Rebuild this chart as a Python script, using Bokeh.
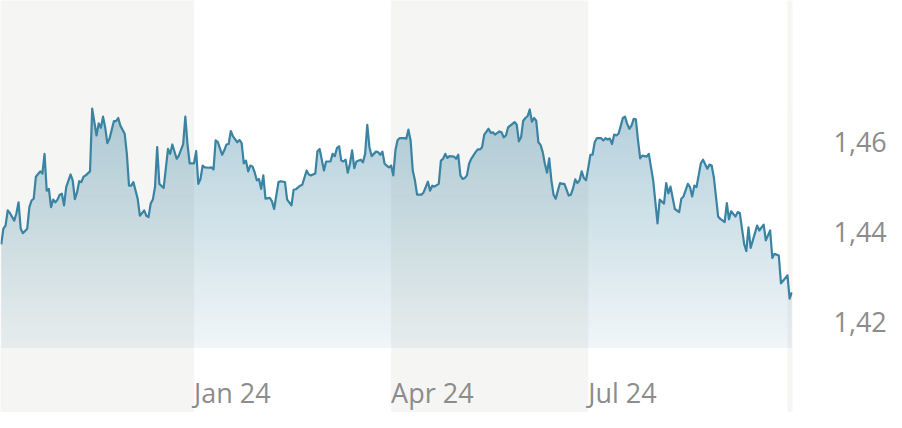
import numpy as np
import pandas as pd
from bokeh.plotting import figure
from bokeh.models import (BoxAnnotation, LinearAxis, FixedTicker,
                          CustomJSTickFormatter, Label, Range1d)
from bokeh.embed import file_html
from bokeh.resources import INLINE

# ---------------- data ----------------
dates = [
    # Oct 2023
    "2023-10-04", "2023-10-05", "2023-10-06", "2023-10-07", "2023-10-08", "2023-10-10", "2023-10-11",
    "2023-10-12", "2023-10-13", "2023-10-14", "2023-10-16", "2023-10-17", "2023-10-18", "2023-10-19",
    "2023-10-20", "2023-10-22", "2023-10-23", "2023-10-24", "2023-10-25", "2023-10-26", "2023-10-27",
    "2023-10-28", "2023-10-29", "2023-10-30", "2023-10-31",
    # Nov 2023
    "2023-11-01", "2023-11-02", "2023-11-03", "2023-11-05", "2023-11-06", "2023-11-07", "2023-11-08",
    "2023-11-09", "2023-11-10", "2023-11-11", "2023-11-12", "2023-11-14", "2023-11-15", "2023-11-17",
    "2023-11-18", "2023-11-19", "2023-11-20", "2023-11-21", "2023-11-22", "2023-11-23", "2023-11-25",
    "2023-11-26", "2023-11-27", "2023-11-28", "2023-11-30",
    # Dec 2023
    "2023-12-01", "2023-12-02", "2023-12-03", "2023-12-04", "2023-12-06", "2023-12-07", "2023-12-09",
    "2023-12-10", "2023-12-11", "2023-12-12", "2023-12-13", "2023-12-14", "2023-12-15", "2023-12-16",
    "2023-12-18", "2023-12-20", "2023-12-21", "2023-12-22", "2023-12-24", "2023-12-25", "2023-12-27",
    "2023-12-28", "2023-12-29", "2023-12-30",
    # Jan 2024
    "2024-01-01", "2024-01-02", "2024-01-03", "2024-01-04", "2024-01-05", "2024-01-06", "2024-01-08",
    "2024-01-09", "2024-01-10", "2024-01-11", "2024-01-12", "2024-01-14", "2024-01-15", "2024-01-16",
    "2024-01-17", "2024-01-18", "2024-01-19", "2024-01-21", "2024-01-22", "2024-01-23", "2024-01-24",
    "2024-01-25", "2024-01-26", "2024-01-27", "2024-01-28", "2024-01-29", "2024-01-30", "2024-01-31",
    # Feb 2024
    "2024-02-01", "2024-02-02", "2024-02-03", "2024-02-05", "2024-02-06", "2024-02-07", "2024-02-09",
    "2024-02-10", "2024-02-12", "2024-02-13", "2024-02-15", "2024-02-16", "2024-02-17", "2024-02-19",
    "2024-02-20", "2024-02-22", "2024-02-23", "2024-02-24", "2024-02-26", "2024-02-27", "2024-02-28",
    # Mar 2024
    "2024-03-01", "2024-03-02", "2024-03-04", "2024-03-05", "2024-03-06", "2024-03-07", "2024-03-08",
    "2024-03-09", "2024-03-10", "2024-03-11", "2024-03-12", "2024-03-13", "2024-03-14", "2024-03-15",
    "2024-03-16", "2024-03-18", "2024-03-19", "2024-03-20", "2024-03-21", "2024-03-22", "2024-03-23",
    "2024-03-25", "2024-03-26", "2024-03-27", "2024-03-28", "2024-03-29", "2024-03-30", "2024-03-31",
    # Apr 2024
    "2024-04-01", "2024-04-02", "2024-04-03", "2024-04-04", "2024-04-05", "2024-04-07", "2024-04-08",
    "2024-04-09", "2024-04-10", "2024-04-11", "2024-04-12", "2024-04-13", "2024-04-15", "2024-04-16",
    "2024-04-18", "2024-04-19", "2024-04-20", "2024-04-21", "2024-04-23", "2024-04-24", "2024-04-25",
    "2024-04-26", "2024-04-27", "2024-04-28", "2024-04-30",
    # May 2024
    "2024-05-01", "2024-05-02", "2024-05-03", "2024-05-04", "2024-05-05", "2024-05-06", "2024-05-07",
    "2024-05-08", "2024-05-10", "2024-05-11", "2024-05-12", "2024-05-13", "2024-05-14", "2024-05-16",
    "2024-05-17", "2024-05-18", "2024-05-19", "2024-05-21", "2024-05-22", "2024-05-23", "2024-05-24",
    "2024-05-25", "2024-05-26", "2024-05-28", "2024-05-29", "2024-05-30", "2024-05-31",
    # Jun 2024
    "2024-06-01", "2024-06-02", "2024-06-03", "2024-06-04", "2024-06-05", "2024-06-06", "2024-06-07",
    "2024-06-08", "2024-06-09", "2024-06-10", "2024-06-11", "2024-06-12", "2024-06-13", "2024-06-14",
    "2024-06-15", "2024-06-16", "2024-06-17", "2024-06-18", "2024-06-19", "2024-06-20", "2024-06-21",
    "2024-06-22", "2024-06-23", "2024-06-24", "2024-06-25", "2024-06-26", "2024-06-27", "2024-06-28",
    "2024-06-29", "2024-06-30",
    # Jul 2024
    "2024-07-01", "2024-07-02", "2024-07-03", "2024-07-04", "2024-07-05", "2024-07-07", "2024-07-08",
    "2024-07-09", "2024-07-10", "2024-07-11", "2024-07-12", "2024-07-13", "2024-07-14", "2024-07-15",
    "2024-07-16", "2024-07-17", "2024-07-18", "2024-07-19", "2024-07-20", "2024-07-21", "2024-07-22",
    "2024-07-23", "2024-07-24", "2024-07-25", "2024-07-26", "2024-07-28", "2024-07-29", "2024-07-30",
    "2024-07-31",
    # Aug 2024
    "2024-08-02", "2024-08-03", "2024-08-05", "2024-08-06", "2024-08-07", "2024-08-08", "2024-08-10",
    "2024-08-12", "2024-08-13", "2024-08-14", "2024-08-16", "2024-08-17", "2024-08-18", "2024-08-19",
    "2024-08-20", "2024-08-21", "2024-08-22", "2024-08-23", "2024-08-25", "2024-08-26", "2024-08-27",
    "2024-08-28", "2024-08-30", "2024-08-31",
    # Sep 2024
    "2024-09-02", "2024-09-03", "2024-09-04", "2024-09-05", "2024-09-07", "2024-09-08", "2024-09-09",
    "2024-09-10", "2024-09-11", "2024-09-12", "2024-09-13", "2024-09-14", "2024-09-15", "2024-09-17",
    "2024-09-18", "2024-09-20", "2024-09-21", "2024-09-23", "2024-09-24", "2024-09-25", "2024-09-27",
    "2024-09-28", "2024-09-29",
    # Oct 2024
    "2024-10-01", "2024-10-02", "2024-10-03",
]

rates = [
    # Oct 2023
    1.4372, 1.4407, 1.4414, 1.4448, 1.4442, 1.4425, 1.4441, 1.4466, 1.4407, 1.4397, 1.4407, 1.4455,
    1.4470, 1.4474, 1.4523, 1.4535, 1.4530, 1.4574, 1.4492, 1.4496, 1.4455, 1.4472, 1.4466, 1.4472, 1.4483,
    # Nov 2023
    1.4485, 1.4459, 1.4500, 1.4528, 1.4515, 1.4473, 1.4488, 1.4513, 1.4511, 1.4523, 1.4526, 1.4535,
    1.4675, 1.4615, 1.4642, 1.4632, 1.4657, 1.4633, 1.4598, 1.4608, 1.4647, 1.4647, 1.4654, 1.4637, 1.4619,
    # Dec 2023
    1.4574, 1.4503, 1.4503, 1.4511, 1.4474, 1.4436, 1.4448, 1.4436, 1.4433, 1.4463, 1.4472, 1.4500,
    1.4589, 1.4507, 1.4498, 1.4585, 1.4574, 1.4595, 1.4563, 1.4570, 1.4596, 1.4657, 1.4596, 1.4553,
    # Jan 2024
    1.4553, 1.4580, 1.4507, 1.4518, 1.4548, 1.4544, 1.4543, 1.4544, 1.4539, 1.4604, 1.4600, 1.4572,
    1.4582, 1.4595, 1.4596, 1.4625, 1.4613, 1.4600, 1.4605, 1.4598, 1.4553, 1.4559, 1.4535, 1.4548,
    1.4546, 1.4533, 1.4515, 1.4518,
    # Feb 2024
    1.4496, 1.4526, 1.4474, 1.4476, 1.4468, 1.4451, 1.4511, 1.4513, 1.4511, 1.4472, 1.4459, 1.4494,
    1.4495, 1.4503, 1.4505, 1.4537, 1.4528, 1.4526, 1.4530, 1.4580, 1.4585,
    # Mar 2024
    1.4537, 1.4557, 1.4557, 1.4574, 1.4569, 1.4587, 1.4591, 1.4559, 1.4557, 1.4561, 1.4532, 1.4552,
    1.4582, 1.4542, 1.4557, 1.4561, 1.4555, 1.4574, 1.4639, 1.4589, 1.4569, 1.4579, 1.4578, 1.4572,
    1.4579, 1.4552, 1.4548, 1.4544,
    # Apr 2024
    1.4548, 1.4526, 1.4582, 1.4605, 1.4609, 1.4609, 1.4608, 1.4628, 1.4604, 1.4537, 1.4515, 1.4483,
    1.4483, 1.4488, 1.4512, 1.4492, 1.4503, 1.4501, 1.4507, 1.4559, 1.4563, 1.4574, 1.4565, 1.4569, 1.4568,
    # May 2024
    1.4563, 1.4572, 1.4526, 1.4518, 1.4520, 1.4526, 1.4552, 1.4563, 1.4578, 1.4584, 1.4584, 1.4589,
    1.4617, 1.4630, 1.4621, 1.4622, 1.4617, 1.4624, 1.4622, 1.4611, 1.4615, 1.4633, 1.4637, 1.4645,
    1.4639, 1.4602, 1.4611,
    # Jun 2024
    1.4648, 1.4654, 1.4658, 1.4673, 1.4646, 1.4654, 1.4648, 1.4600, 1.4594, 1.4578, 1.4552, 1.4532,
    1.4564, 1.4515, 1.4483, 1.4474, 1.4492, 1.4509, 1.4507, 1.4507, 1.4494, 1.4481, 1.4483, 1.4497,
    1.4517, 1.4509, 1.4515, 1.4535, 1.4520, 1.4515,
    # Jul 2024
    1.4542, 1.4572, 1.4572, 1.4600, 1.4609, 1.4609, 1.4604, 1.4609, 1.4606, 1.4608, 1.4596, 1.4617,
    1.4615, 1.4619, 1.4636, 1.4654, 1.4657, 1.4641, 1.4630, 1.4637, 1.4652, 1.4651, 1.4604, 1.4564,
    1.4570, 1.4568, 1.4574, 1.4544, 1.4515,
    # Aug 2024
    1.4419, 1.4472, 1.4463, 1.4509, 1.4486, 1.4501, 1.4451, 1.4444, 1.4474, 1.4479, 1.4507, 1.4500,
    1.4479, 1.4503, 1.4500, 1.4526, 1.4553, 1.4561, 1.4541, 1.4550, 1.4548, 1.4522, 1.4434, 1.4429,
    # Sep 2024
    1.4422, 1.4464, 1.4428, 1.4446, 1.4434, 1.4444, 1.4442, 1.4407, 1.4373, 1.4357, 1.4410, 1.4364,
    1.4381, 1.4414, 1.4403, 1.4416, 1.4381, 1.4403, 1.4342, 1.4351, 1.4347, 1.4285, 1.4291,
    # Oct 2024
    1.4303, 1.4251, 1.4265,
]

band_starts = ["2023-10-01", "2024-04-01", "2024-10-01"]   # shaded quarters
band_ends = ["2024-01-01", "2024-07-01", "2025-01-01"]
xtick_dates = ["2024-01-01", "2024-04-01", "2024-07-01"]
xtick_labels = ["Jan 24", "Apr 24", "Jul 24"]
yticks = [1.42, 1.44, 1.46]
fill_base = 1.4141

# ---------------- styling ----------------
LINE_RGB = (58, 131, 162)
LINE = "#3a83a2"
BAND = "#f5f5f3"
TEXT = "#8c8c8c"
FONT = "Open Sans"
FSIZE = "27px"
DAY_MS = 86400000.0


def ms(s):
    return pd.Timestamp(s).value / 1e6


t = np.array([ms(d) for d in dates])
v = np.array(rates)

origin = ms("2023-10-01")
x_left = origin + 2.665 * DAY_MS
x_right = origin + 368.32 * DAY_MS
y_bottom, y_top = 1.399697, 1.491620

p = figure(frame_width=792, frame_height=412,
           x_range=Range1d(x_left, x_right), y_range=Range1d(y_bottom, y_top),
           x_axis_type=None, y_axis_type=None,
           toolbar_location=None, output_backend="svg",
           min_border_left=0, min_border_right=94,
           min_border_top=0, min_border_bottom=0)
p.outline_line_color = None
p.background_fill_color = "white"
p.border_fill_color = "white"

# quarter bands
for s, e in zip(band_starts, band_ends):
    p.add_layout(BoxAnnotation(left=ms(s), right=ms(e), fill_color=BAND, fill_alpha=1.0,
                               line_color=None, level="underlay"))

# gradient area: vertical RGBA gradient image, then mask everything above the line
a_bottom, a_top, v_ref = 0.075, 0.385, 1.4675
H = 400
g_top = v.max()
levels = fill_base + (np.arange(H) + 0.5) / H * (g_top - fill_base)
alphas = a_bottom + (a_top - a_bottom) * (levels - fill_base) / (v_ref - fill_base)
img = np.empty((H, 1), dtype=np.uint32)
view = img.view(dtype=np.uint8).reshape((H, 1, 4))
view[:, 0, 0] = LINE_RGB[0]
view[:, 0, 1] = LINE_RGB[1]
view[:, 0, 2] = LINE_RGB[2]
view[:, 0, 3] = np.clip(np.round(alphas * 255), 0, 255).astype(np.uint8)
p.image_rgba(image=[img], x=t[0], y=fill_base, dw=t[-1] - t[0], dh=g_top - fill_base)

# mask above the line: white everywhere, then band grey inside the shaded quarters
p.varea(x=t, y1=v, y2=y_top + 0.01, fill_color="white")
for s, e in zip(band_starts, band_ends):
    lo, hi = max(ms(s), t[0]), min(ms(e), t[-1])
    if hi <= lo:
        continue
    inside = (t > lo) & (t < hi)
    xs = np.concatenate([[lo], t[inside], [hi]])
    ys = np.interp(xs, t, v)
    p.varea(x=xs, y1=ys, y2=y_top + 0.01, fill_color=BAND)

p.line(t, v, line_color=LINE, line_width=2.2, line_join="round")

# right value axis
yaxis = LinearAxis(ticker=FixedTicker(ticks=yticks, minor_ticks=[]),
                   formatter=CustomJSTickFormatter(code="return tick.toFixed(2).replace('.', ',');"),
                   axis_line_color=None, major_tick_line_color=None, minor_tick_line_color=None,
                   major_tick_in=0, major_tick_out=0, major_label_standoff=41,
                   major_label_text_font=FONT, major_label_text_font_size=FSIZE,
                   major_label_text_color=TEXT)
p.add_layout(yaxis, "right")

# month labels inside the plot area
for d, lab in zip(xtick_dates, xtick_labels):
    p.add_layout(Label(x=ms(d), y=20, y_units="screen", text=lab, x_offset=0,
                       text_font=FONT, text_font_size=FSIZE, text_color=TEXT,
                       text_align="left", text_baseline="alphabetic"))

open("out.html", "w").write(file_html(p, INLINE))
